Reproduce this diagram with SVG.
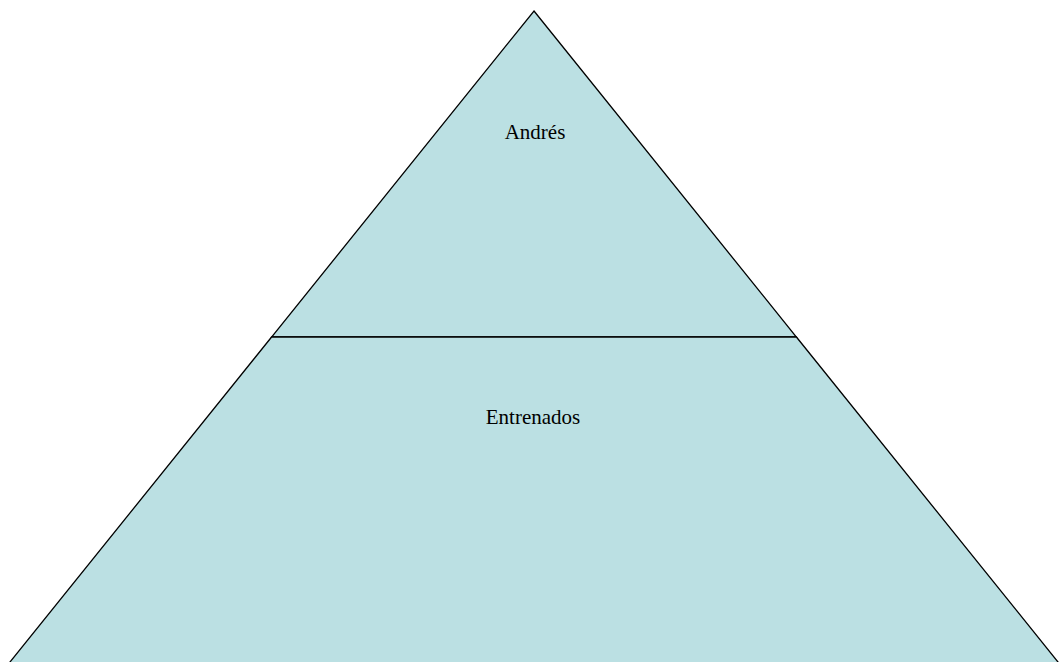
<svg xmlns="http://www.w3.org/2000/svg" width="1060" height="662" viewBox="0 0 1060 662">
<style>
.shape{fill:#BBE0E3;stroke:#000;stroke-width:1.3}
.lbl{font-family:"Liberation Serif","Times New Roman",serif;font-size:21px;fill:#000;text-anchor:middle}
</style>
<rect width="1060" height="662" fill="#fff"/>
<g id="top">
<polygon class="shape" points="534,11 796.4,337 271.6,337"/>
<text class="lbl" x="535" y="139">Andrés</text>
</g>
<g id="bottom">
<polygon class="shape" points="271.6,337 796.4,337 1060.4,665 7.6,665"/>
<text class="lbl" x="533" y="424">Entrenados</text>
</g>
<g id="connectors"/>
</svg>
